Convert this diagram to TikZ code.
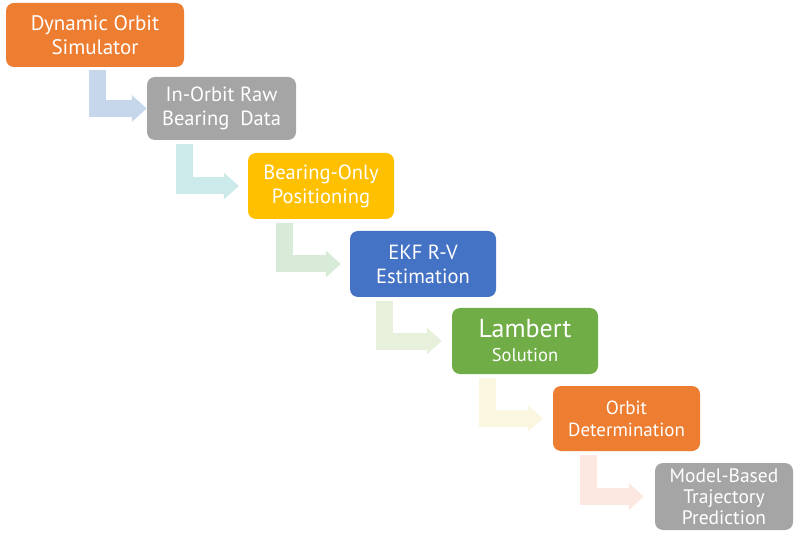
\documentclass[tikz,border=0pt]{standalone}
\usepackage{fontspec}
\setmainfont{PT Sans}
\usetikzlibrary{arrows.meta}
\pgfdeclarelayer{bg}\pgfsetlayers{bg,main}
\definecolor{corange}{HTML}{ED7D31}
\definecolor{cgray}{HTML}{A5A5A5}
\definecolor{cyellow}{HTML}{FFC000}
\definecolor{cblue}{HTML}{4472C4}
\definecolor{cgreen}{HTML}{70AD47}
\definecolor{aone}{HTML}{C6D7EC}
\definecolor{atwo}{HTML}{CDEAEA}
\definecolor{athree}{HTML}{D7EBD8}
\definecolor{afour}{HTML}{E6F0DB}
\definecolor{afive}{HTML}{FAF6E0}
\definecolor{asix}{HTML}{FCE8E0}
\tikzset{
  box/.style={rounded corners=8pt, text=white, align=center, inner sep=0pt,
    font=\fontsize{20.5}{24}\selectfont},
  flow/.style={draw=#1, line width=17pt, line join=miter,
    -{Triangle[length=15pt,width=26pt,fill=#1]}},
}
\begin{document}
\begin{tikzpicture}[x=1pt,y=1pt]
\useasboundingbox (0,0) rectangle (794,533);
\node[box, fill=corange, minimum width=178pt, minimum height=64pt, font=\fontsize{21}{24}\selectfont] (b1) at (95,498) {Dynamic Orbit\\Simulator};
\node[box, fill=cgray, minimum width=149pt, minimum height=63pt] (b2) at (221.5,424.5) {In-Orbit Raw\\Bearing\ \ Data};
\node[box, fill=cyellow, minimum width=146pt, minimum height=66pt] (b3) at (321,347) {Bearing-Only\\Positioning};
\node[box, fill=cblue, minimum width=146pt, minimum height=66pt] (b4) at (423,269) {EKF R-V\\Estimation};
\node[box, fill=cgreen, minimum width=146pt, minimum height=66pt] (b5) at (525,192) {{\fontsize{26}{27}\selectfont Lambert}\\{\fontsize{18.5}{22}\selectfont Solution}};
\node[box, fill=corange, minimum width=147pt, minimum height=65pt, font=\fontsize{19}{22}\selectfont] (b6) at (626.5,114.5) {Orbit\\Determination};
\node[box, fill=cgray, minimum width=138pt, minimum height=67pt, font=\fontsize{19.5}{21}\selectfont] (b7) at (724,36.5) {Model-Based\\Trajectory\\Prediction};
\begin{pgfonlayer}{bg}
\draw[flow=aone] ([xshift=91.5pt,yshift=-3pt]b1.south west) |- (b2.west);
\draw[flow=atwo] ([xshift=37.5pt,yshift=-4pt]b2.south west) |- ([xshift=-9pt]b3.west);
\draw[flow=athree] ([xshift=36.5pt,yshift=-4pt]b3.south west) |- ([xshift=-9pt]b4.west);
\draw[flow=afour] ([xshift=35pt,yshift=-4pt]b4.south west) |- ([xshift=-10pt]b5.west);
\draw[flow=afive] ([xshift=36pt,yshift=-4pt]b5.south west) |- ([xshift=-10pt]b6.west);
\draw[flow=asix] ([xshift=36pt,yshift=-4pt]b6.south west) |- ([xshift=-11pt]b7.west);
\end{pgfonlayer}
\end{tikzpicture}
\end{document}
